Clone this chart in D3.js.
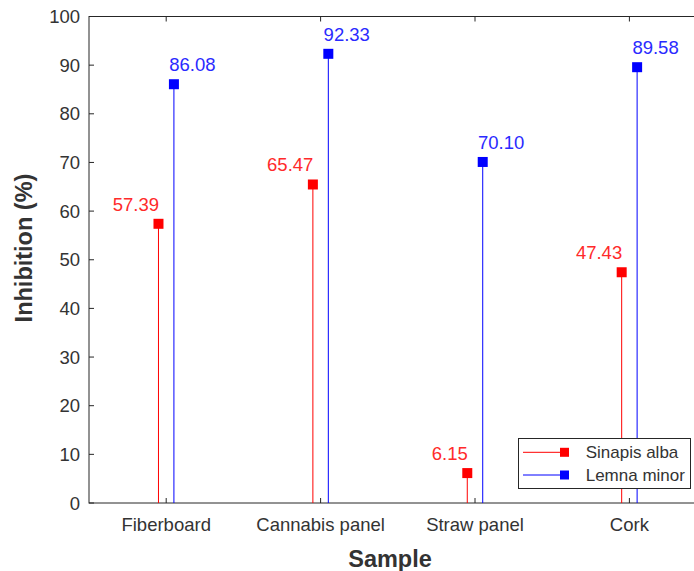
<!DOCTYPE html>
<html>
<head>
<meta charset="utf-8">
<script src="https://cdn.jsdelivr.net/npm/d3@7"></script>
<style>
  html, body { margin: 0; padding: 0; background: #fff; }
  svg { display: block; font-family: "Liberation Sans", Arial, Helvetica, sans-serif; }
</style>
</head>
<body>
<svg id="chart" width="694" height="571"></svg>
<script>
const categories = ["Fiberboard", "Cannabis panel", "Straw panel", "Cork"];
const sinapisAlba = [57.39, 65.47, 6.15, 47.43];
const lemnaMinor = [86.08, 92.33, 70.10, 89.58];
const yTicks = [0, 10, 20, 30, 40, 50, 60, 70, 80, 90, 100];
const seriesNames = ["Sinapis alba", "Lemna minor"];
const seriesColors = ["#ff0000", "#0000ff"];
const labelColors = ["#ff2a2a", "#2a2aff"];
const seriesOffsets = [-0.05, 0.05];

(function () {
const svg = d3.select("#chart");
const axisColor = "#262626";
const textColor = "#333333";

const pL = 89, pR = 706.6, pT = 16.5, pB = 503;
const x = d3.scaleLinear().domain([0.5, 4.5]).range([pL, pR]);
const y = d3.scaleLinear().domain([0, 100]).range([pB, pT]);

// plot box
svg.append("rect")
  .attr("x", pL).attr("y", pT)
  .attr("width", pR - pL).attr("height", pB - pT)
  .attr("fill", "none").attr("stroke", axisColor).attr("stroke-width", 1);

// y ticks (inside)
const yAxis = svg.append("g");
yTicks.forEach(t => {
  yAxis.append("line")
    .attr("x1", pL).attr("x2", pL + 5)
    .attr("y1", y(t)).attr("y2", y(t))
    .attr("stroke", axisColor).attr("stroke-width", 1);
  yAxis.append("text")
    .attr("x", pL - 9).attr("y", y(t)).attr("dy", "0.36em")
    .attr("text-anchor", "end")
    .attr("font-size", "18.5px").attr("fill", textColor)
    .text(t);
});

// x ticks (inside, top and bottom)
const xAxis = svg.append("g");
categories.forEach((c, i) => {
  const xv = x(i + 1);
  xAxis.append("line")
    .attr("x1", xv).attr("x2", xv).attr("y1", pB).attr("y2", pB - 5)
    .attr("stroke", axisColor).attr("stroke-width", 1);
  xAxis.append("line")
    .attr("x1", xv).attr("x2", xv).attr("y1", pT).attr("y2", pT + 5)
    .attr("stroke", axisColor).attr("stroke-width", 1);
  xAxis.append("text")
    .attr("x", xv).attr("y", 531)
    .attr("text-anchor", "middle")
    .attr("font-size", "18.5px").attr("fill", textColor)
    .text(c);
});

// axis labels
svg.append("text")
  .attr("x", 390).attr("y", 567)
  .attr("text-anchor", "middle")
  .attr("font-size", "23.5px").attr("font-weight", "bold").attr("fill", textColor)
  .text("Sample");
svg.append("text")
  .attr("transform", "translate(32,248) rotate(-90)")
  .attr("text-anchor", "middle")
  .attr("font-size", "23.5px").attr("font-weight", "bold").attr("fill", textColor)
  .text("Inhibition (%)");

// stems
const series = [sinapisAlba, lemnaMinor];
series.forEach((vals, s) => {
  const g = svg.append("g");
  const col = seriesColors[s];
  vals.forEach((v, i) => {
    const xv = x(i + 1 + seriesOffsets[s]);
    g.append("line")
      .attr("x1", xv).attr("x2", xv).attr("y1", y(0)).attr("y2", y(v))
      .attr("stroke", col).attr("stroke-width", 1);
    g.append("rect")
      .attr("x", xv - 5).attr("y", y(v) - 5)
      .attr("width", 10).attr("height", 10)
      .attr("fill", col);
    const t = g.append("text")
      .attr("y", y(v) - 13)
      .attr("font-size", "18.5px").attr("fill", labelColors[s])
      .text(v.toFixed(2));
    if (s === 0) {
      t.attr("x", xv + 0.5).attr("text-anchor", "end");
    } else {
      t.attr("x", xv - 4.7).attr("text-anchor", "start");
    }
  });
});

// legend
const lg = svg.append("g");
lg.append("rect")
  .attr("x", 518.5).attr("y", 438.5).attr("width", 172).attr("height", 50)
  .attr("fill", "#fff").attr("stroke", axisColor).attr("stroke-width", 1);
seriesNames.forEach((n, i) => {
  const ry = [452.3, 475][i];
  lg.append("line")
    .attr("x1", 523).attr("x2", 564.5).attr("y1", ry).attr("y2", ry)
    .attr("stroke", seriesColors[i]).attr("stroke-width", 1);
  lg.append("rect")
    .attr("x", 564.5 - 4.5).attr("y", ry - 4.5).attr("width", 9).attr("height", 9)
    .attr("fill", seriesColors[i]);
  lg.append("text")
    .attr("x", 585.7).attr("y", ry).attr("dy", "0.36em")
    .attr("font-size", "17px").attr("fill", textColor)
    .text(n);
});
})();
</script>
</body>
</html>
